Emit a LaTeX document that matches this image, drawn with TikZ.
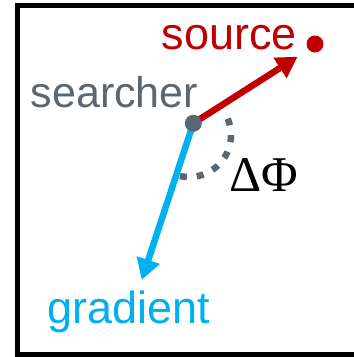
\documentclass[tikz,border=0pt]{standalone}
\usepackage{fontspec}
\setmainfont{Liberation Sans}
\newfontfamily\serifgreek{Liberation Serif}
\usetikzlibrary{arrows.meta}
\definecolor{srcred}{HTML}{C00000}
\definecolor{gradblue}{HTML}{00B0F0}
\definecolor{searchgray}{HTML}{5B6770}
\begin{document}
\begin{tikzpicture}[x=1pt,y=-1pt,
  lbl/.style={inner sep=0pt, anchor=base west, font=\fontsize{45}{50}\selectfont},
  dot/.style={circle, inner sep=0pt, minimum size=17pt},
  vec/.style={line width=6.5pt, -{Triangle[length=21pt,width=23pt]}},
]
\useasboundingbox (0,0) rectangle (354,357);
\clip (0,0) rectangle (354,357);
\fill[white] (0,0) rectangle (354,357);
\draw[line width=5pt] (17.5,5.5) rectangle (380,354);

\coordinate (sc) at (193.3,123.3);
\coordinate (srctip) at (297.7,56.7);
\coordinate (gradtip) at (141.7,280);

\draw[searchgray, line width=6.5pt, dash pattern=on 7pt off 10pt]
  plot[domain=-23:103, samples=60] ({189+42*cos(\x)},{135+42*sin(\x)});

\draw[vec, srcred] (sc) -- (srctip);
\draw[vec, gradblue] (sc) -- (gradtip);

\node[dot, fill=searchgray] (s) at (sc) {};
\node[dot, fill=srcred] (src) at (315,44) {};

\node[lbl, text=srcred] (srclbl) at (161.5,49) {source};
\node[lbl, text=searchgray, font=\fontsize{43}{50}\selectfont] (slbl) at (30.5,107.3) {searcher};
\node[lbl, text=gradblue] (glbl) at (47.5,323) {gradient};
\node[lbl, font=\serifgreek\fontsize{50}{50}\selectfont] (dphi) at (229,191.7) {ΔΦ};
\end{tikzpicture}
\end{document}
